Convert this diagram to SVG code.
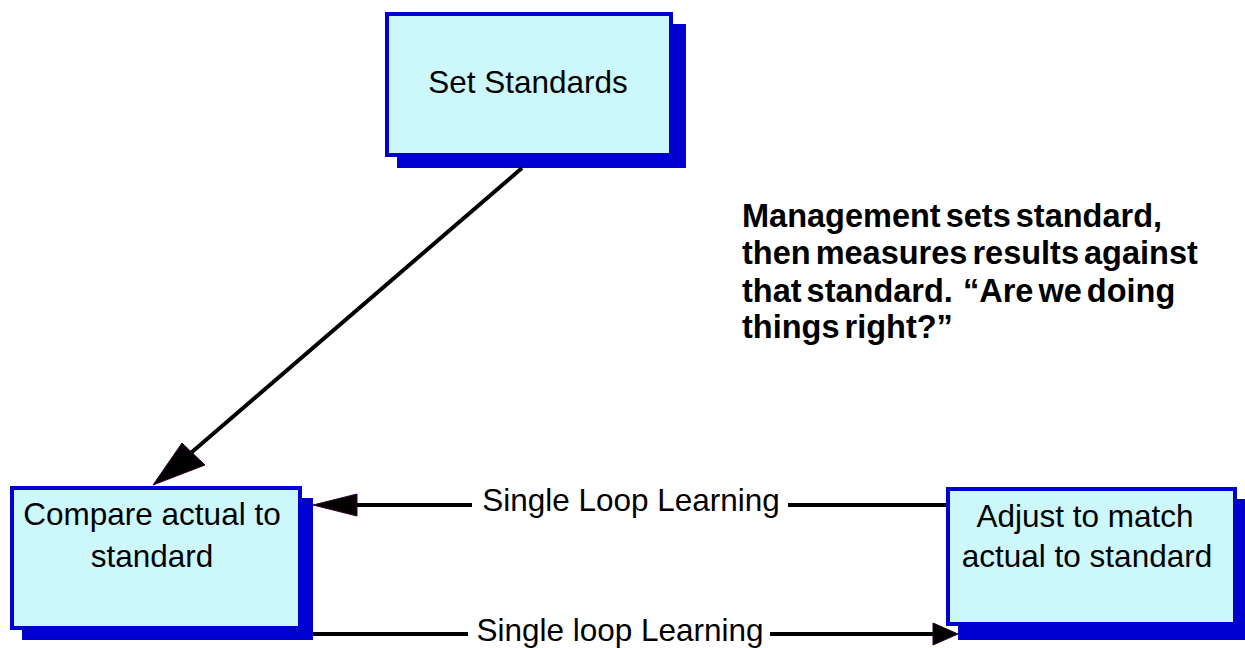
<svg xmlns="http://www.w3.org/2000/svg" width="1245" height="648" viewBox="0 0 1245 648">
<style>
.shadow{fill:#0000D0;}
.box{fill:#CCF7FB;stroke:#0000D0;stroke-width:4;}
.lbl{font-family:"Liberation Sans",Arial,sans-serif;font-size:31.5px;fill:#000;text-anchor:middle;}
.note{font-family:"Liberation Sans",Arial,sans-serif;font-size:32.5px;font-weight:bold;fill:#000;word-spacing:-4px;}
.line{stroke:#000;stroke-width:4;fill:none;}
.head{fill:#000;stroke:#300030;stroke-width:1;}
</style>
<rect width="1245" height="648" fill="#fff"/>
<g id="set-standards">
<rect class="shadow" x="397" y="24" width="289" height="144"/>
<rect class="box" x="387" y="14" width="284" height="141"/>
<text class="lbl" x="528" y="93">Set Standards</text>
</g>
<g id="compare">
<rect class="shadow" x="22" y="498" width="291" height="142"/>
<rect class="box" x="12" y="488" width="288" height="140"/>
<text class="lbl" x="152" y="525">Compare actual to</text>
<text class="lbl" x="152" y="567">standard</text>
</g>
<g id="adjust">
<rect class="shadow" x="958" y="499" width="290" height="141"/>
<rect class="box" x="948" y="489" width="287" height="135"/>
<text class="lbl" x="1085" y="527">Adjust to match</text>
<text class="lbl" x="1087" y="567">actual to standard</text>
</g>
<g id="note">
<text class="note" x="742" y="227">Management sets standard,</text>
<text class="note" x="742" y="264">then measures results against</text>
<text class="note" x="742" y="302" xml:space="preserve">that standard.  “Are we doing</text>
<text class="note" x="742" y="338">things right?”</text>
</g>
<g id="connectors">
<line class="line" x1="522" y1="168" x2="185" y2="458"/>
<polygon class="head" points="153,485 182,443 205,465"/>
<line class="line" x1="946" y1="505" x2="788" y2="505"/>
<line class="line" x1="472" y1="505" x2="355" y2="505"/>
<polygon class="head" points="313,505 357,494 357,516"/>
<text class="lbl" x="631" y="511">Single Loop Learning</text>
<line class="line" x1="313" y1="634" x2="468" y2="634"/>
<line class="line" x1="770" y1="634" x2="935" y2="634"/>
<polygon class="head" points="958,634 933,623 933,645"/>
<text class="lbl" x="620" y="641">Single loop Learning</text>
</g>
</svg>
